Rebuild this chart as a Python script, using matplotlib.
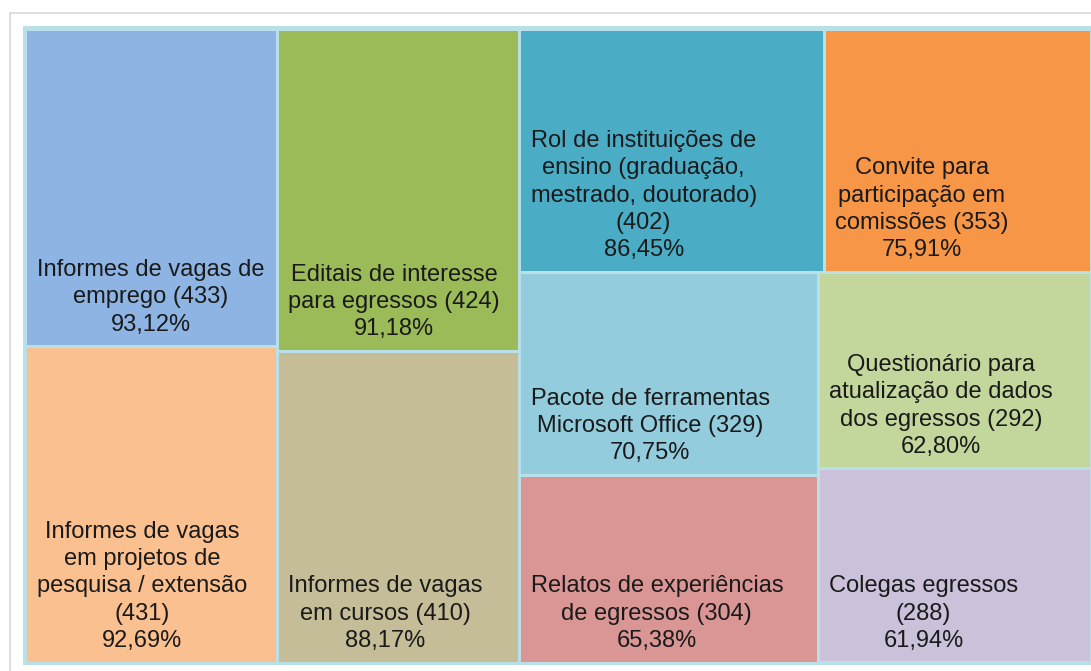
import matplotlib
matplotlib.use("Agg")
import matplotlib.pyplot as plt
from matplotlib.patches import Rectangle
from matplotlib.lines import Line2D

# ---- data ----
categories = [
    "Informes de vagas de\nemprego",
    "Informes de vagas\nem projetos de\npesquisa / extensão",
    "Editais de interesse\npara egressos",
    "Informes de vagas\nem cursos",
    "Rol de instituições de\nensino (graduação,\nmestrado, doutorado)",
    "Convite para\nparticipação em\ncomissões",
    "Pacote de ferramentas\nMicrosoft Office",
    "Relatos de experiências\nde egressos",
    "Questionário para\natualização de dados\ndos egressos",
    "Colegas egressos",
]
counts = [433, 431, 424, 410, 402, 353, 329, 304, 292, 288]
percents = ["93,12%", "92,69%", "91,18%", "88,17%", "86,45%",
            "75,91%", "70,75%", "65,38%", "62,80%", "61,94%"]
count_sep = [" ", "\n", " ", " ", "\n", " ", " ", " ", " ", "\n"]
colors = ["#8EB4E3", "#FAC090", "#9BBB59", "#C4BD97", "#4BACC6",
          "#F79646", "#93CDDD", "#D99694", "#C3D69B", "#CCC1DA"]
bg = "#B9DFE9"

W_PX, H_PX = 1091, 671
fig = plt.figure(figsize=(W_PX / 100, H_PX / 100), dpi=100)
fig.patch.set_facecolor("white")

# outer light-gray frame
fig.add_artist(Line2D([9.5 / W_PX, 9.5 / W_PX], [0, 1 - 12.5 / H_PX],
                      transform=fig.transFigure, color="#D9D9D9", lw=1.2))
fig.add_artist(Line2D([9.5 / W_PX, 1], [1 - 12.5 / H_PX, 1 - 12.5 / H_PX],
                      transform=fig.transFigure, color="#D9D9D9", lw=1.2))

# treemap axes (pixel units)
left, top, right, bottom = 23, 26, 1091, 665
AW, AH = right - left, bottom - top
ax = fig.add_axes([left / W_PX, 1 - bottom / H_PX, AW / W_PX, AH / H_PX])
ax.set_xlim(0, AW)
ax.set_ylim(AH, 0)
ax.axis("off")
ax.add_patch(Rectangle((0, 0), AW, AH, facecolor=bg, edgecolor="none"))


def worst(row, length):
    s = sum(row)
    return max(max(length ** 2 * r / s ** 2, s ** 2 / (length ** 2 * r)) for r in row)


def squarify(values, x, y, w, h):
    total = sum(values)
    vals = [v * w * h / total for v in values]
    rects = []
    while vals:
        length = min(w, h)
        row = [vals[0]]
        i = 1
        while i < len(vals) and worst(row + [vals[i]], length) <= worst(row, length):
            row.append(vals[i])
            i += 1
        vals = vals[i:]
        s = sum(row)
        if w >= h:
            cw = s / h
            cy = y
            for r in row:
                rh = r / cw
                rects.append((x, cy, cw, rh))
                cy += rh
            x += cw
            w -= cw
        else:
            rh = s / w
            cx = x
            for r in row:
                rw = r / rh
                rects.append((cx, y, rw, rh))
                cx += rw
            y += rh
            h -= rh
    return rects


pad = 2.5
rects = squarify(counts, pad, pad, AW - pad, AH - 2 * pad)
gap_pt = 3 * 72 / 100

for (x, y, w, h), cat, n, sep, pct, col in zip(rects, categories, counts,
                                                count_sep, percents, colors):
    ax.add_patch(Rectangle((x, y), w, h, facecolor=col, edgecolor=bg,
                           linewidth=gap_pt))
    label = f"{cat}{sep}({n})\n{pct}"
    ax.text(x + 11.5, y + h - 10.5, label, ha="left", va="bottom",
            multialignment="center", fontsize=17,
            family=["Liberation Sans", "DejaVu Sans"], color="#1A1A1A",
            linespacing=1.31)

fig.savefig("out.png", dpi=100)
